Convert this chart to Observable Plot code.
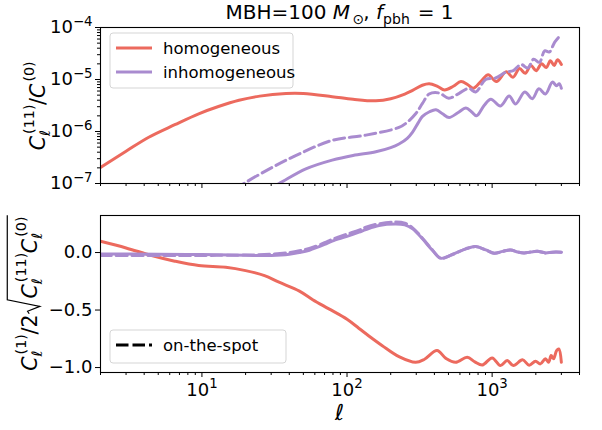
<!DOCTYPE html>
<html><head><meta charset="utf-8">
<script src="https://cdn.jsdelivr.net/npm/d3@7"></script>
<script src="https://cdn.jsdelivr.net/npm/@observablehq/plot@0.6"></script>
<style>
body{margin:0;background:#fff;}
#fig{position:relative;width:602px;height:430px;font-family:"DejaVu Sans",sans-serif;}
#fig svg{position:absolute;left:0;overflow:visible;}
</style></head><body><div id="fig"></div>
<script>
const RED = "#ec6a5e", PURPLE = "#a98bcf";

// ---- top panel: C_l^(11)/C^(0)
const ellHomTop = [2,3,4.3,6.5,9.5,13,18,25,38,50,79,110,158,200,250,283,330,368,420,470,540,610,680,740,840,940,1070,1250,1390,1545,1690,1850,2010,2190,2360,2520,2680,2820,3000];
const ratioHomTop = [2.04e-7,4.17e-7,7.76e-7,1.35e-6,2.19e-6,3.02e-6,3.98e-6,4.79e-6,5.37e-6,5.37e-6,4.68e-6,4.17e-6,3.89e-6,4.27e-6,5.25e-6,6.17e-6,7.76e-6,8.32e-6,7.41e-6,6.31e-6,7.41e-6,9.12e-6,7.94e-6,6.76e-6,9.33e-6,1.23e-5,9.12e-6,1.41e-5,1.10e-5,1.62e-5,1.32e-5,1.86e-5,1.48e-5,2.00e-5,1.70e-5,2.29e-5,1.86e-5,2.40e-5,1.95e-5];

const ellInhTop = [28,34,52,79,110,158,200,228,260,283,310,331,370,410,455,505,580,660,720,780,880,980,1140,1310,1450,1680,1890,2100,2330,2600,2780,2900,3000];
const ratioInhTop = [7.59e-8,1.00e-7,1.91e-7,2.82e-7,3.47e-7,4.07e-7,4.90e-7,5.75e-7,7.41e-7,9.77e-7,1.48e-6,1.95e-6,2.40e-6,2.63e-6,2.19e-6,1.86e-6,2.29e-6,2.82e-6,2.40e-6,2.00e-6,3.16e-6,4.17e-6,3.09e-6,4.79e-6,3.39e-6,5.75e-6,4.27e-6,6.61e-6,5.25e-6,8.91e-6,7.59e-6,8.32e-6,6.76e-6];

const ellInhOtsTop = [17,19.5,30.5,47,79,135,228,260,297,331,368,431,503,589,690,770,902,1057,1241,1400,1580,1760,1930,2120,2300,2480,2700,3000];
const ratioInhOtsTop = [7.59e-8,1.00e-7,2.04e-7,3.72e-7,6.76e-7,8.51e-7,1.20e-6,1.51e-6,2.19e-6,3.47e-6,5.25e-6,5.50e-6,4.37e-6,5.37e-6,6.76e-6,5.75e-6,1.00e-5,1.07e-5,1.38e-5,1.48e-5,1.95e-5,1.66e-5,2.45e-5,2.14e-5,3.55e-5,3.39e-5,5.25e-5,7.40e-5];

// ---- bottom panel: C_l^(1) / 2 sqrt(C^(11) C^(0))
const ellHomBot = [2,3,4.5,6.5,9.5,14.6,20,27,34,47,58,75,100,121,150,175,228,297,340,417,480,560,673,760,857,1000,1140,1270,1400,1620,1800,1990,2150,2330,2450,2550,2650,2780,2880,3000];
const corrHomBot = [0.098,0.04,-0.026,-0.075,-0.113,-0.128,-0.157,-0.20,-0.258,-0.335,-0.41,-0.49,-0.58,-0.66,-0.75,-0.81,-0.905,-0.954,-0.93,-0.852,-0.92,-0.954,-0.91,-0.95,-0.977,-0.916,-0.983,-0.939,-0.983,-0.933,-0.98,-0.945,-0.968,-0.924,-0.954,-0.896,-0.924,-0.852,-0.838,-0.954];

const ellInhBot = [2,5,10,20,30,40,47,55,70,79,100,121,135,166,217,250,283,331,389,443,532,658,770,905,1033,1180,1340,1500,1660,1850,2050,2330,2600,3000];
const corrInhBot = [-0.012,-0.015,-0.018,-0.024,-0.025,-0.015,0.0,0.02,0.07,0.10,0.14,0.177,0.20,0.235,0.248,0.24,0.206,0.119,0.017,-0.05,-0.017,0.032,0.052,0.023,-0.006,0.01,0.023,0.005,-0.003,0.005,0.011,-0.003,0.003,0.003];
const corrInhOtsBot = [-0.025,-0.025,-0.025,-0.022,-0.015,0.0,0.015,0.035,0.085,0.115,0.16,0.195,0.22,0.25,0.265,0.255,0.215,0.125,0.02,-0.05,-0.017,0.032,0.052,0.023,-0.006,0.01,0.023,0.005,-0.003,0.005,0.011,-0.003,0.003,0.003];

// ---- ticks
const xMajor = [10,100,1000];
const xMinor = [2,3,4,5,6,7,8,9,20,30,40,50,60,70,80,90,200,300,400,500,600,700,800,900,2000,3000,4000];
const yTopMajor = [1e-7,1e-6,1e-5,1e-4];
const yTopMinor = [2e-7,3e-7,4e-7,5e-7,6e-7,7e-7,8e-7,9e-7,2e-6,3e-6,4e-6,5e-6,6e-6,7e-6,8e-6,9e-6,2e-5,3e-5,4e-5,5e-5,6e-5,7e-5,8e-5,9e-5];
const yBotTicks = [-1.0,-0.5,0.0];

const seriesLabels = ["homogeneous","inhomogeneous","on-the-spot"];

const rows = (ell, v) => ell.map((l, i) => ({ell: l, v: v[i]}));
const expFmt = d => { const e = Math.round(Math.log10(d)); return "10^" + (e < 0 ? "\u2212" + (-e) : e); };
const decFmt = d => (d < 0 ? "\u2212" : "") + Math.abs(d).toFixed(1);

const style = {fontFamily: '"DejaVu Sans", sans-serif', fontSize: "18px", color: "black", background: "transparent", overflow: "visible"};
const lineOpts = (stroke, dash) => ({x: "ell", y: "v", stroke, strokeWidth: 3, clip: true, curve: "catmull-rom", strokeDasharray: dash, strokeLinejoin: "round"});

const topPlot = Plot.plot({
  width: 602, height: 200, marginLeft: 100, marginRight: 23, marginTop: 27, marginBottom: 17,
  style,
  x: {type: "log", domain: [2, 4000]},
  y: {type: "log", domain: [1e-7, 1e-4]},
  marks: [
    Plot.axisX({ticks: xMinor, tickSize: 3, tickFormat: () => "", label: null}),
    Plot.axisX({ticks: xMajor, tickSize: 5, tickFormat: () => "", label: null}),
    Plot.axisY({ticks: yTopMinor, tickSize: 3, tickFormat: () => "", label: null}),
    Plot.axisY({ticks: yTopMajor, tickSize: 5, tickPadding: 3, tickFormat: expFmt, label: null}),
    Plot.line(rows(ellHomTop, ratioHomTop), lineOpts(RED)),
    Plot.line(rows(ellInhTop, ratioInhTop), lineOpts(PURPLE)),
    Plot.line(rows(ellInhOtsTop, ratioInhOtsTop), lineOpts(PURPLE, "11,4.8")),
    Plot.frame({stroke: "black", strokeWidth: 1.1})
  ]
});

const botPlot = Plot.plot({
  width: 602, height: 230, marginLeft: 100, marginRight: 23, marginTop: 15, marginBottom: 58,
  style,
  x: {type: "log", domain: [2, 4000]},
  y: {domain: [-1.043, 0.322]},
  marks: [
    Plot.axisX({ticks: xMinor, tickSize: 3, tickFormat: () => "", label: null}),
    Plot.axisX({ticks: xMajor, tickSize: 5, tickPadding: 5.5, tickFormat: expFmt, label: null}),
    Plot.axisY({ticks: yBotTicks, tickSize: 5, tickPadding: 3, tickFormat: decFmt, label: null}),
    Plot.line(rows(ellHomBot, corrHomBot), lineOpts(RED)),
    Plot.line(rows(ellInhBot, corrInhOtsBot), lineOpts(PURPLE, "11,4.8")),
    Plot.line(rows(ellInhBot, corrInhBot), lineOpts(PURPLE)),
    Plot.frame({stroke: "black", strokeWidth: 1.1})
  ]
});

const fig = document.getElementById("fig");
topPlot.style.top = "0px";
botPlot.style.top = "200px";
fig.appendChild(topPlot);
fig.appendChild(botPlot);

// superscript exponents in tick labels
function supTicks(svg) {
  d3.select(svg).selectAll('g[aria-label$="tick label"] text').each(function() {
    const m = /^10\^(.+)$/.exec(this.textContent);
    if (!m) return;
    const t = d3.select(this);
    t.text("10");
    t.append("tspan").attr("dy", "-0.55em").attr("font-size", "0.74em").text(m[1]);
  });
}
supTicks(topPlot); supTicks(botPlot);

// math-like label builder
function mathLabel(svg, parts, {x, y, size, rotate = 0}) {
  const g = d3.select(svg).append("g").attr("transform", `translate(${x},${y}) rotate(${rotate})`)
    .attr("text-anchor", "start");
  const inner = g.append("g");
  let cx = 0;
  const addText = (str, px, py, fs, italic) => {
    const t = inner.append("text").attr("x", px).attr("y", py).attr("font-size", fs)
      .attr("text-anchor", "start")
      .attr("font-family", '"DejaVu Sans", sans-serif').attr("fill", "black")
      .attr("font-style", italic ? "italic" : null).text(str);
    return t.node().getComputedTextLength();
  };
  const render = ps => {
    for (const p of ps) {
      if (p.sqrt) {
        const x0 = cx;
        cx += 0.78 * size;
        render(p.sqrt);
        const top = -1.45 * size;
        inner.append("path")
          .attr("d", `M${x0+0.04*size},${-0.38*size} L${x0+0.16*size},${-0.46*size} L${x0+0.4*size},${0.14*size} L${x0+0.72*size},${top} L${cx+0.08*size},${top}`)
          .attr("fill", "none").attr("stroke", "black").attr("stroke-width", 1.2);
        cx += 0.08 * size;
      } else if (p.sub !== undefined || p.sup !== undefined) {
        let w = 0;
        if (p.sub !== undefined) w = Math.max(w, addText(p.sub, cx + (p.subDx || 0) * size, 0.25 * size, 0.7 * size, p.subItalic));
        if (p.sup !== undefined) w = Math.max(w, addText(p.sup, cx + (p.supDx || 0) * size, -0.55 * size, 0.7 * size, false));
        cx += w + 0.08 * size;
      } else {
        cx += addText(p.t, cx, 0, size, p.italic);
      }
    }
  };
  render(parts);
  inner.attr("transform", `translate(${-cx / 2},0)`);
}

// title
mathLabel(topPlot, [
  {t: "MBH=100\u00a0"}, {t: "M", italic: true}, {sub: "\u2299", subDx: 0.12}, {t: ",\u00a0"},
  {t: "f", italic: true}, {sub: "pbh"}, {t: "\u00a0=\u00a01"}
], {x: 339.5, y: 19, size: 20});

// y labels
mathLabel(topPlot, [
  {t: "C", italic: true}, {sub: "\u2113", subItalic: true, sup: "(11)", supDx: 0.1},
  {t: "/"}, {t: "C", italic: true}, {sup: "(0)", supDx: 0.1}
], {x: 45, y: 106, size: 20.5, rotate: -90});

mathLabel(botPlot, [
  {t: "C", italic: true}, {sub: "\u2113", subItalic: true, sup: "(1)", supDx: 0.1},
  {t: "/2"},
  {sqrt: [
    {t: "C", italic: true}, {sub: "\u2113", subItalic: true, sup: "(11)", supDx: 0.1},
    {t: "C", italic: true}, {sub: "\u2113", subItalic: true, sup: "(0)", supDx: 0.1}
  ]}
], {x: 37, y: 93, size: 20.5, rotate: -90});

// x label
d3.select(botPlot).append("text").attr("x", 339.5).attr("y", 220).attr("text-anchor", "middle")
  .attr("font-size", 22).attr("font-style", "italic").attr("fill", "black").text("\u2113");

// legends
function legend(svg, {x, y, w, h, items}) {
  const g = d3.select(svg).append("g").attr("text-anchor", "start");
  g.append("rect").attr("x", x).attr("y", y).attr("width", w).attr("height", h).attr("rx", 3)
    .attr("fill", "white").attr("fill-opacity", 0.8).attr("stroke", "#d5d5d5").attr("stroke-width", 1);
  items.forEach((it, i) => {
    const cy = y + 15 + i * 24;
    g.append("line").attr("x1", x + 6).attr("x2", x + 42).attr("y1", cy).attr("y2", cy)
      .attr("stroke", it.color).attr("stroke-width", 3.2).attr("stroke-dasharray", it.dash || null);
    g.append("text").attr("x", x + 53).attr("y", cy).attr("dy", "0.36em").attr("font-size", 16.5)
      .attr("text-anchor", "start").attr("fill", "black").text(it.label);
  });
}
legend(topPlot, {x: 110, y: 33, w: 183, h: 55, items: [
  {label: seriesLabels[0], color: RED}, {label: seriesLabels[1], color: PURPLE}]});
legend(botPlot, {x: 110, y: 130, w: 176, h: 33, items: [
  {label: seriesLabels[2], color: "black", dash: "12.5,4"}]});
</script>
</body></html>
